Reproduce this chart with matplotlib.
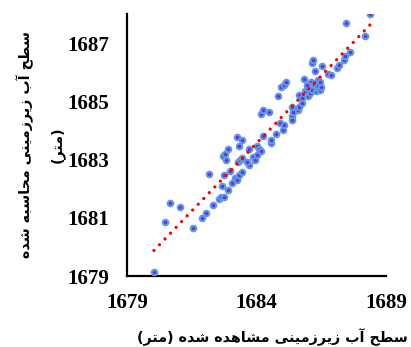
import numpy as np
import matplotlib
matplotlib.use("Agg")
import matplotlib.pyplot as plt
from matplotlib.font_manager import FontProperties

# Observed vs. computed groundwater level (m)
observed = [
    1680.04, 1680.45, 1680.66, 1681.06, 1681.56, 1681.91, 1682.05, 1682.15, 1682.33, 1682.55,
    1682.62, 1682.73, 1682.68, 1682.89, 1682.71, 1682.80, 1682.90, 1682.84, 1682.73, 1682.98,
    1683.07, 1683.17, 1683.26, 1683.34, 1683.44, 1683.30, 1683.35, 1683.44, 1683.23, 1683.44,
    1683.31, 1683.72, 1683.63, 1683.71, 1683.86, 1683.94, 1684.01, 1684.01, 1684.11, 1684.17,
    1684.17, 1684.26, 1684.47, 1684.26, 1684.55, 1684.57, 1684.75, 1684.83, 1684.95, 1685.05,
    1685.15, 1684.91, 1685.01, 1685.07, 1685.36, 1685.37, 1685.38, 1685.42, 1685.59, 1685.64,
    1685.76, 1685.63, 1685.85, 1685.76, 1685.87, 1685.94, 1686.00, 1686.07, 1686.13, 1686.10,
    1686.21, 1686.28, 1686.32, 1686.39, 1686.45, 1686.50, 1686.13, 1686.19, 1686.26, 1686.53,
    1686.77, 1686.86, 1687.10, 1687.17, 1687.39, 1687.42, 1687.60, 1687.46, 1688.18, 1688.38,
    1686.36, 1685.94, 1686.45,
]
computed = [
    1679.15, 1680.87, 1681.52, 1681.37, 1680.66, 1680.98, 1681.18, 1682.51, 1681.44, 1681.65,
    1681.70, 1681.73, 1682.09, 1681.96, 1683.13, 1683.19, 1683.37, 1682.99, 1682.48, 1682.59,
    1682.20, 1682.36, 1682.30, 1682.48, 1682.56, 1682.90, 1682.97, 1683.06, 1683.79, 1683.68,
    1683.48, 1682.82, 1682.93, 1683.37, 1683.10, 1682.99, 1683.16, 1683.45, 1683.36, 1683.28,
    1684.57, 1684.71, 1684.65, 1683.81, 1683.56, 1683.68, 1683.87, 1685.20, 1685.49, 1685.57,
    1685.67, 1684.25, 1684.02, 1684.19, 1684.80, 1684.51, 1684.36, 1684.65, 1684.71, 1684.82,
    1684.94, 1685.21, 1685.76, 1685.12, 1685.34, 1685.45, 1685.17, 1685.28, 1685.40, 1685.65,
    1685.60, 1685.34, 1685.45, 1685.53, 1685.40, 1685.49, 1686.31, 1686.43, 1686.05, 1686.22,
    1685.95, 1685.91, 1686.16, 1686.26, 1686.43, 1686.54, 1686.68, 1687.69, 1687.25, 1687.99,
    1685.74, 1685.57, 1685.68,
]

x_ticks = [1679, 1684, 1689]
y_ticks = [1679, 1681, 1683, 1685, 1687]

x_title = "سطح آب زیرزمینی مشاهده شده (متر)"
y_title = "سطح آب زیرزمینی محاسبه شده"
y_unit = "(متر)"

# Minimal Persian shaping: (isolated, final, initial, medial) presentation forms
FORMS = {
    "ا": ("\uFE8D", "\uFE8E", None, None),
    "آ": ("\uFE81", "\uFE82", None, None),
    "د": ("\uFEA9", "\uFEAA", None, None),
    "ر": ("\uFEAD", "\uFEAE", None, None),
    "ز": ("\uFEAF", "\uFEB0", None, None),
    "ب": ("\uFE8F", "\uFE90", "\uFE91", "\uFE92"),
    "ت": ("\uFE95", "\uFE96", "\uFE97", "\uFE98"),
    "ح": ("\uFEA1", "\uFEA2", "\uFEA3", "\uFEA4"),
    "س": ("\uFEB1", "\uFEB2", "\uFEB3", "\uFEB4"),
    "ش": ("\uFEB5", "\uFEB6", "\uFEB7", "\uFEB8"),
    "ط": ("\uFEC1", "\uFEC2", "\uFEC3", "\uFEC4"),
    "م": ("\uFEE1", "\uFEE2", "\uFEE3", "\uFEE4"),
    "ن": ("\uFEE5", "\uFEE6", "\uFEE7", "\uFEE8"),
    "ه": ("\uFEE9", "\uFEEA", "\uFEEB", "\uFEEC"),
    "ی": ("\uFEEF", "\uFEF0", "\uFEF3", "\uFEF4"),
}
MIRROR = {"(": ")", ")": "("}


def shape_rtl(text):
    out = []
    n = len(text)
    for i, ch in enumerate(text):
        if ch not in FORMS:
            out.append(ch)
            continue
        iso, fin, ini, med = FORMS[ch]
        prev = text[i - 1] if i > 0 else ""
        nxt = text[i + 1] if i < n - 1 else ""
        jp = prev in FORMS and FORMS[prev][2] is not None
        jn = ini is not None and nxt in FORMS
        if jp and jn:
            out.append(med)
        elif jp:
            out.append(fin)
        elif jn:
            out.append(ini)
        else:
            out.append(iso)
    return "".join(MIRROR.get(c, c) for c in reversed(out))


fig = plt.figure(figsize=(4.11, 3.47), dpi=100)
ax = fig.add_axes([0.309, 0.2046, 0.630, 0.7551])

ax.scatter(observed, computed, s=4.0 ** 2, marker="o",
           facecolor="#6a2cf0", edgecolor="#5d9bdc", linewidths=1.5, zorder=3)

# Linear trend line over the observed range
slope, intercept = np.polyfit(observed, computed, 1)
xs = np.array([min(observed), max(observed)])
ax.plot(xs, slope * xs + intercept, color="#ff0000", lw=2.4,
        linestyle=(0, (0.001, 2.4)), dash_capstyle="round", zorder=4)

ax.set_xlim(1679, 1689)
ax.set_ylim(1679, 1688)
ax.set_xticks(x_ticks)
ax.set_yticks(y_ticks)
ax.set_xticklabels([str(v) for v in x_ticks])
ax.set_yticklabels([str(v) for v in y_ticks])

tick_fp = FontProperties(family="Liberation Serif", weight="bold", size=15)
for lab in ax.get_xticklabels() + ax.get_yticklabels():
    lab.set_fontproperties(tick_fp)
ax.tick_params(axis="both", length=0)
ax.tick_params(axis="x", pad=12)
ax.tick_params(axis="y", pad=13)

for side in ("top", "right"):
    ax.spines[side].set_visible(False)
for side in ("left", "bottom"):
    ax.spines[side].set_linewidth(1.6)
    ax.spines[side].set_color("black")

label_font = dict(family=["DejaVu Sans"], weight="bold", size=10.3)
fig.text(272 / 411, 1 - 337 / 347, shape_rtl(x_title), ha="center", va="center", **label_font)
fig.text(25 / 411, 1 - 145 / 347, shape_rtl(y_title), ha="center", va="center",
         rotation=90, **label_font)
fig.text(57 / 411, 1 - 145 / 347, shape_rtl(y_unit), ha="center", va="center",
         rotation=90, **label_font)

fig.savefig("out.png", dpi=100)
